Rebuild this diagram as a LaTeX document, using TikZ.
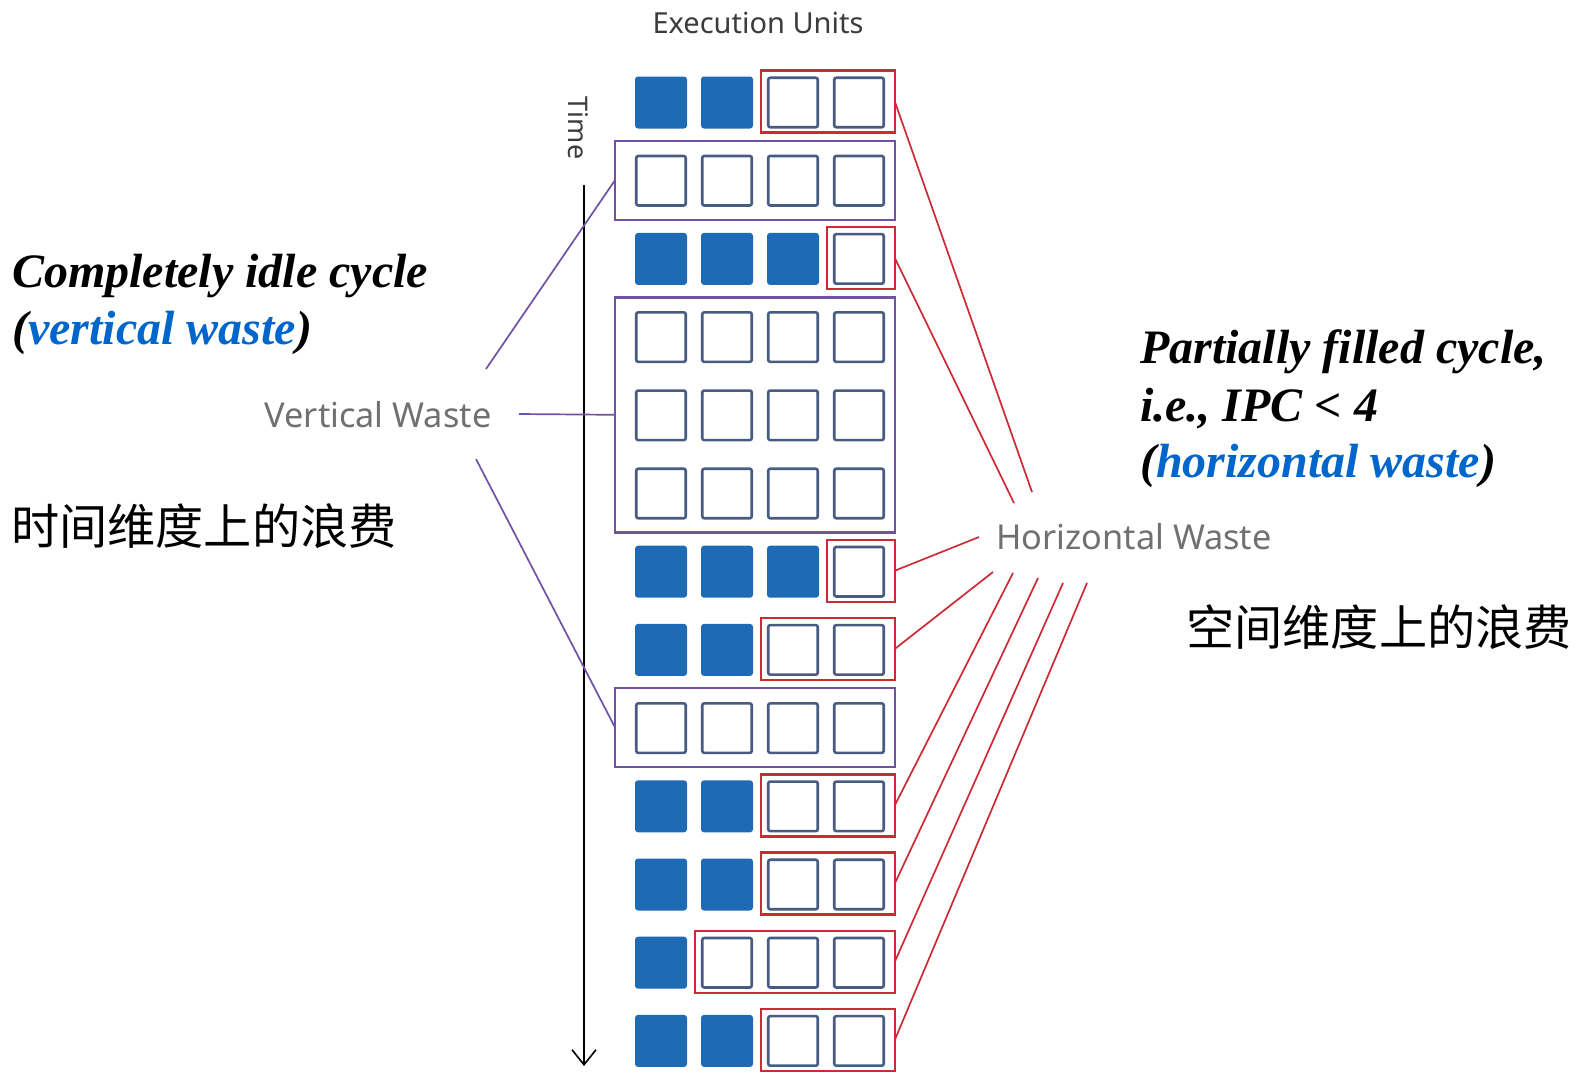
\documentclass[tikz,border=0pt]{standalone}
\usepackage{fontspec}
\setmainfont{Liberation Serif}
\newfontfamily\uifont{Noto Sans}
\newfontfamily\cjkfont{Noto Sans CJK SC}
\usetikzlibrary{arrows.meta}
\definecolor{cellblue}{RGB}{30,106,181}
\definecolor{celledge}{RGB}{72,92,130}
\definecolor{wred}{RGB}{204,42,52}
\definecolor{wpurple}{RGB}{112,82,164}
\definecolor{txtblue}{RGB}{0,102,204}
\definecolor{labelgrey}{RGB}{112,112,112}
\definecolor{headgrey}{RGB}{60,60,60}
\begin{document}
\begin{tikzpicture}[x=1pt,y=-1pt,
  cell/.style={minimum width=49.5pt, minimum height=49.5pt, inner sep=0pt, outer sep=0pt, rounded corners=2pt},
  fullcell/.style={cell, fill=cellblue, draw=cellblue, line width=2.5pt},
  idlecell/.style={cell, fill=white, draw=celledge, line width=2.6pt},
  redbox/.style={draw=wred, line width=2.4pt, inner sep=0pt, outer sep=0pt, minimum height=62pt},
  purplebox/.style={draw=wpurple, line width=2.4pt, inner sep=0pt, outer sep=0pt, minimum width=280pt},
  redlink/.style={draw=wred, line width=1.7pt},
  purplelink/.style={draw=wpurple, line width=1.7pt},
  bigtext/.style={font=\fontsize{48}{56}\selectfont\bfseries\itshape, inner sep=0pt, anchor=base west},
  uilabel/.style={font=\uifont\fontsize{34.3}{34.3}\selectfont, text=labelgrey, inner sep=0pt},
  cjktext/.style={font=\cjkfont\fontsize{48.2}{48.2}\selectfont, inner sep=0pt, anchor=west}
]
\useasboundingbox (0,0) rectangle (1577,1072);
\fill[white] (0,0) rectangle (1577,1072);

% ---- cells: row / number of filled cells ----
\foreach \r/\nf in {1/2,2/0,3/3,4/0,5/0,6/0,7/3,8/2,9/0,10/2,11/2,12/1,13/2}{
  \pgfmathsetmacro\cy{102.5+78.2*(\r-1)}
  \foreach \c in {1,2,3,4}{
    \pgfmathsetmacro\cx{661+66*(\c-1)}
    \ifnum\c>\nf
      \node[idlecell] (s-\r-\c) at (\cx,\cy) {};
    \else
      \node[fullcell] (s-\r-\c) at (\cx,\cy) {};
    \fi
  }
}

% ---- red boxes (horizontal waste) ----
\foreach \r/\a in {1/3,3/4,7/4,8/3,10/3,11/3,12/2,13/3}{
  \pgfmathsetmacro\cy{102.5+78.2*(\r-1)-1}
  \pgfmathsetmacro\L{635+66*(\a-1)-7}
  \pgfmathsetmacro\w{896-\L-2.4}
  \pgfmathsetmacro\cx{(\L+896)/2}
  \node[redbox, minimum width=\w pt] (rb\r) at (\cx,\cy) {};
}

% ---- purple boxes (vertical waste) ----
\node[purplebox, minimum height=79pt] (pb2) at (755,180.2) {};
\node[purplebox, minimum height=235pt] (pb46) at (755,414.8) {};
\node[purplebox, minimum height=79pt] (pb9) at (755,727.4) {};

% ---- headings ----
\node[font=\uifont\fontsize{29}{29}\selectfont, text=headgrey, inner sep=0pt] (eu) at (758,23) {Execution Units};
\node[font=\uifont\fontsize{27}{27}\selectfont, text=headgrey, rotate=-90, inner sep=0pt] (time) at (578,128) {Time};

% ---- time axis ----
\coordinate (tstart) at (584,185);
\coordinate (tend) at (584,1066);
\draw[line width=1.6pt, -{Straight Barb[length=15pt,width=24pt]}] (tstart) -- (tend);

% ---- labels ----
\node[uilabel] (vw) at (378,415) {Vertical Waste};
\node[uilabel] (hw) at (1134,537) {Horizontal Waste};

% ---- vertical waste connectors ----
\coordinate (va1) at (486,369);
\coordinate (va2) at (519,414);
\coordinate (va3) at (476,459);
\draw[purplelink] (va1) -- (pb2.west);
\draw[purplelink] (va2) -- (pb46.west);
\draw[purplelink] (va3) -- (pb9.west);

% ---- horizontal waste connectors ----
\coordinate (ha1) at (1032,492);
\coordinate (ha3) at (1014,503);
\coordinate (ha7) at (979,537);
\coordinate (ha8) at (993,572);
\coordinate (ha10) at (1013,573);
\coordinate (ha11) at (1038,578);
\coordinate (ha12) at (1063,583);
\coordinate (ha13) at (1087,583);
\foreach \r in {1,3,7,8,10,11,12,13}{
  \draw[redlink] (rb\r.east) -- (ha\r);
}

% ---- explanatory text ----
\node[bigtext] (cic1) at (12,287) {Completely idle cycle};
\node[bigtext] (cic2) at (12,344) {(\textcolor{txtblue}{vertical waste})};
\node[bigtext] (pfc1) at (1140,363) {Partially filled cycle,};
\node[bigtext] (pfc2) at (1140,421) {i.e., IPC < 4};
\node[bigtext] (pfc3) at (1140,477) {(\textcolor{txtblue}{horizontal waste})};
\node[cjktext] (tw) at (11,526) {时间维度上的浪费};
\node[cjktext] (sw) at (1186,627) {空间维度上的浪费};
\end{tikzpicture}
\end{document}
